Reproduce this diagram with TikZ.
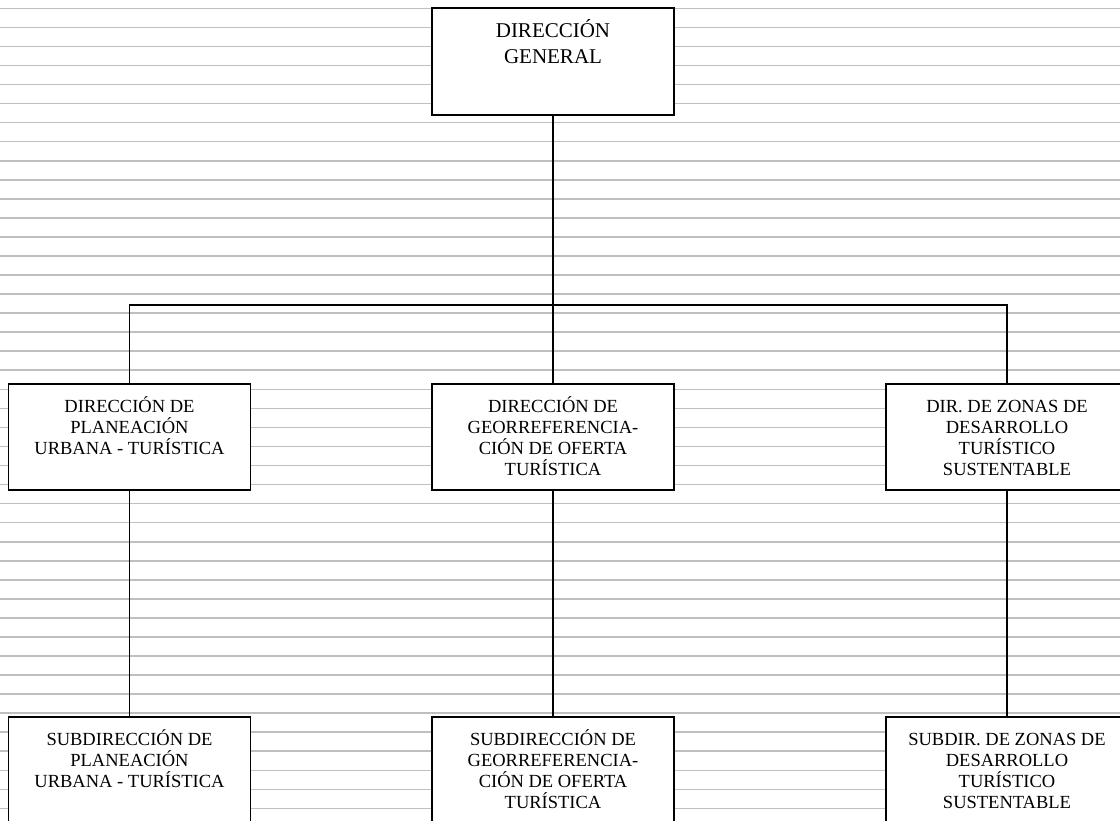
\documentclass[tikz,border=0pt]{standalone}
\usepackage{fontspec}
\setmainfont{Liberation Serif}
\usetikzlibrary{positioning}
\tikzset{
	caja/.style={draw, line width=1.6pt, fill=white, minimum width=242pt, minimum height=106pt, inner sep=0pt},
	texto/.style={align=center, inner sep=0pt, font=\fontsize{18.5}{21}\selectfont},
	textogrande/.style={texto, font=\fontsize{21}{25.7}\selectfont},
	linea/.style={line width=1.6pt},
	renglon/.style={black!25, line width=1.6pt}
}
\begin{document}
\begin{tikzpicture}[x=1pt, y=-1pt]
	\useasboundingbox (0,0) rectangle (1120,820);
	\clip (0,0) rectangle (1120,820);
	\foreach \k in {0,...,42}
		\draw[renglon] (0,8.3+19.05*\k) -- (1120,8.3+19.05*\k);

	\node[caja, minimum height=107pt] (dg) at (553,61.5) {};
	\node[textogrande, below=56pt of dg.north, anchor=base] (dgt) {DIRECCIÓN\\GENERAL};

	\node[caja] (dpu) at (129.5,437) {};
	\node[texto, below=71pt of dpu.north, anchor=base] (dput) {DIRECCIÓN DE\\PLANEACIÓN\\URBANA - TURÍSTICA};
	\node[caja] (dgo) at (553,437) {};
	\node[texto, below=92pt of dgo.north, anchor=base] (dgot) {DIRECCIÓN DE\\GEORREFERENCIA-\\CIÓN DE OFERTA\\TURÍSTICA};
	\node[caja] (dzd) at (1007,437) {};
	\node[texto, below=92pt of dzd.north, anchor=base] (dzdt) {DIR. DE ZONAS DE\\DESARROLLO\\TURÍSTICO\\SUSTENTABLE};

	\node[caja] (spu) at (129.5,770) {};
	\node[texto, below=71pt of spu.north, anchor=base] (sput) {SUBDIRECCIÓN DE\\PLANEACIÓN\\URBANA - TURÍSTICA};
	\node[caja] (sgo) at (553,770) {};
	\node[texto, below=92pt of sgo.north, anchor=base] (sgot) {SUBDIRECCIÓN DE\\GEORREFERENCIA-\\CIÓN DE OFERTA\\TURÍSTICA};
	\node[caja] (szd) at (1007,770) {};
	\node[texto, below=92pt of szd.north, anchor=base] (szdt) {SUBDIR. DE ZONAS DE\\DESARROLLO\\TURÍSTICO\\SUSTENTABLE};

	\coordinate (barra) at (553,305);
	\draw[linea] (dg.south) -- (barra);
	\draw[linea] (dpu.north) |- (barra) -| (dzd.north);
	\draw[linea] (barra) -- (dgo.north);
	\draw[linea] (dpu.south) -- (spu.north);
	\draw[linea] (dgo.south) -- (sgo.north);
	\draw[linea] (dzd.south) -- (szd.north);
\end{tikzpicture}
\end{document}
